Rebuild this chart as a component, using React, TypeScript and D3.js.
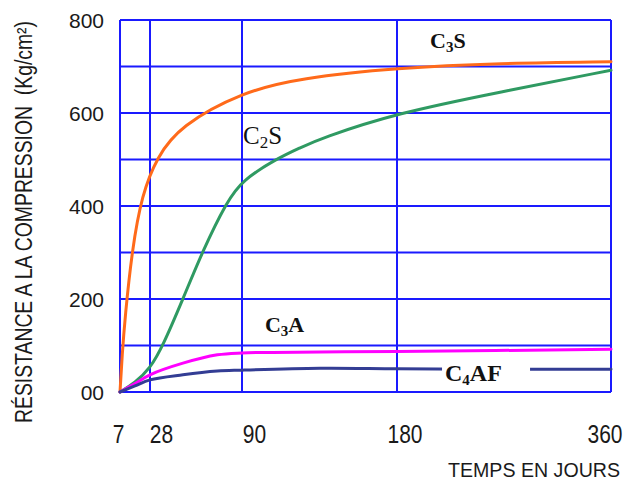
import React from "react";
import * as d3 from "d3";

// ---- data ----
const xTickDays = [7, 28, 90, 180, 360];
const xTickLabels = ["7", "28", "90", "180", "360"];
const yTickValues = [0, 200, 400, 600, 800];
const yTickLabels = ["00", "200", "400", "600", "800"];
const yGridValues = [0, 100, 200, 300, 400, 500, 600, 700, 800];

const c3sDays = [7, 8.5, 10.5, 15.4, 22.4, 32.7, 48.2, 90, 123.7, 180, 266.6, 360];
const c3sValues = [0, 80, 160, 305, 425, 505, 572, 645, 675, 697, 707, 710];

const c2sDays = [7, 17.5, 28, 36.8, 50.2, 63.7, 79.9, 90, 110.3, 123.7, 135.3, 180, 266.6, 360];
const c2sValues = [0, 20, 50, 100, 200, 305, 410, 455, 502, 525, 545, 600, 645, 692];

const c3aDays = [7, 17.5, 28, 50.2, 73.4, 90, 135.3, 180, 360];
const c3aValues = [0, 18, 37, 62, 80, 84, 86, 87, 92];

const c4afDays = [7, 17.5, 28, 50.2, 73.4, 90, 135.3, 180, 266.6, 360];
const c4afValues = [0, 13, 26, 37, 45, 47, 51, 50, 49, 49];

// ---- layout ----
const W = 627;
const H = 481;
const xRangePx = [120, 150, 242, 397, 611];
const yTop = 20;
const yBottom = 392;
const gridColor = "#1a1aff";
const sans = "'Liberation Sans', Arial, sans-serif";
const serif = "'Liberation Serif', 'Times New Roman', serif";
const xLabelDx = [-1.5, 11.5, 12.5, 8, -6];

const x = d3.scaleLinear().domain(xTickDays).range(xRangePx);
const y = d3.scaleLinear().domain([0, 800]).range([yBottom, yTop]);

const makeLine = (curve: d3.CurveFactory) =>
  d3
    .line<[number, number]>()
    .x((d) => x(d[0]))
    .y((d) => y(d[1]))
    .curve(curve);

const zip = (a: number[], b: number[]) => a.map((v, i) => [v, b[i]] as [number, number]);

const series = [
  { name: "C3S", color: "#ff6a1a", pts: zip(c3sDays, c3sValues), curve: d3.curveBasis },
  { name: "C2S", color: "#2f9a62", pts: zip(c2sDays, c2sValues), curve: d3.curveBasis },
  { name: "C3A", color: "#ff00ff", pts: zip(c3aDays, c3aValues), curve: d3.curveCatmullRom.alpha(0.5) },
  { name: "C4AF", color: "#333d94", pts: zip(c4afDays, c4afValues), curve: d3.curveCatmullRom.alpha(0.5) },
];

export default function App() {
  const x0 = xRangePx[0];
  const x1 = xRangePx[xRangePx.length - 1];
  const c4afX = x(220.4);
  const c4afY = y(23.7);
  return (
    <svg
      width={W}
      height={H}
      viewBox={`0 0 ${W} ${H}`}
      style={{ position: "absolute", left: 0, top: 0, background: "#fff" }}
    >
      {/* grid */}
      {yGridValues.map((v) => (
        <line key={"h" + v} x1={x0} x2={x1} y1={y(v)} y2={y(v)} stroke={gridColor} strokeWidth={2} />
      ))}
      {xTickDays.map((d) => (
        <line key={"v" + d} x1={x(d)} x2={x(d)} y1={yTop} y2={yBottom} stroke={gridColor} strokeWidth={2} />
      ))}

      {/* curves */}
      {series.map((s) => (
        <path
          key={s.name}
          d={makeLine(s.curve)(s.pts) || ""}
          fill="none"
          stroke={s.color}
          strokeWidth={3}
          strokeLinecap="round"
        />
      ))}

      {/* knockout for C4AF label */}
      <rect x={c4afX - 3} y={c4afY - 16} width={88} height={20} fill="#fff" />

      {/* y tick labels */}
      {yTickValues.map((v, i) => (
        <text
          key={"yl" + v}
          x={104}
          y={y(v)}
          dy="0.36em"
          textAnchor="end"
          fontFamily={sans}
          fontSize={21}
          fill="#1a1a1a"
        >
          {yTickLabels[i]}
        </text>
      ))}

      {/* x tick labels */}
      {xTickDays.map((d, i) => (
        <text
          key={"xl" + d}
          transform={`translate(${x(d) + xLabelDx[i]},443) scale(1,1.22)`}
          textAnchor="middle"
          fontFamily={sans}
          fontSize={21}
          fill="#1a1a1a"
        >
          {xTickLabels[i]}
        </text>
      ))}

      {/* axis titles */}
      <text
        x={448}
        y={477}
        fontFamily={sans}
        fontSize={20}
        textLength={172}
        lengthAdjust="spacingAndGlyphs"
        fill="#1a1a1a"
      >
        TEMPS EN JOURS
      </text>
      <text
        transform="translate(24,222) rotate(-90) scale(1,1.15)"
        y={7}
        textAnchor="middle"
        fontFamily={sans}
        fontSize={20}
        textLength={402}
        lengthAdjust="spacingAndGlyphs"
        fill="#1a1a1a"
        style={{ whiteSpace: "pre" }}
      >
        RÉSISTANCE A LA COMPRESSION  (Kg/cm²)
      </text>

      {/* curve labels */}
      <text x={x(207.8)} y={y(740)} fontFamily={serif} fontWeight="bold" fontSize={22} fill="#111">
        C<tspan fontSize={15} dy={4}>3</tspan>
        <tspan dy={-4}>S</tspan>
      </text>
      <text x={x(90.6)} y={y(533)} fontFamily={serif} fontSize={25} fill="#111">
        C<tspan fontSize={17} dy={4}>2</tspan>
        <tspan dy={-4}>S</tspan>
      </text>
      <text x={x(103.3)} y={y(129)} fontFamily={serif} fontWeight="bold" fontSize={22} fill="#111">
        C<tspan fontSize={15} dy={4}>3</tspan>
        <tspan dy={-4}>A</tspan>
      </text>
      <text x={c4afX} y={c4afY} fontFamily={serif} fontWeight="bold" fontSize={24} fill="#111">
        C<tspan fontSize={15} dy={4}>4</tspan>
        <tspan dy={-4}>AF</tspan>
      </text>
    </svg>
  );
}
